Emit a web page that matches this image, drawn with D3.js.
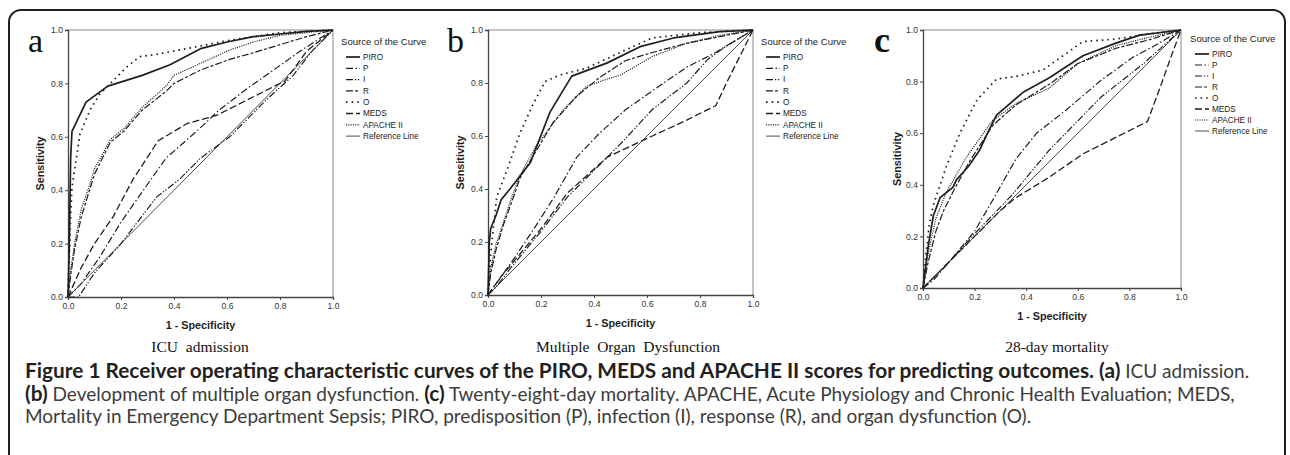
<!DOCTYPE html>
<html>
<head>
<meta charset="utf-8">
<script src="https://cdn.jsdelivr.net/npm/d3@7"></script>
<style>
  body { margin: 0; background: #fff; }
  svg { display: block; }
</style>
</head>
<body>
<div id="fig"></div>
<script>
//---------------------------------------------------------------------
// ROC curves, three panels (a) ICU admission, (b) MOD, (c) 28-day mortality
//---------------------------------------------------------------------

var sources = ["PIRO", "P", "I", "R", "O", "MEDS", "APACHE II", "Reference Line"];
var tickValues = [0, 0.2, 0.4, 0.6, 0.8, 1.0];
var panelLetters = ["a", "b", "c"];
var panelTitles = ["ICU  admission", "Multiple  Organ  Dysfunction", "28-day mortality"];

// [1 - specificity, sensitivity]
// (a) ICU admission
var icuPIRO = [[0,0],[0.005,0.2],[0.01,0.52],[0.015,0.62],[0.068,0.73],[0.15,0.79],[0.28,0.83],[0.385,0.87],[0.5,0.93],[0.6,0.955],[0.7,0.975],[0.8,0.985],[0.9,0.995],[1,1]];
var icuP = [[0,0],[0.05,0.05],[0.12,0.15],[0.2,0.28],[0.27,0.38],[0.32,0.45],[0.37,0.52],[0.49,0.625],[0.57,0.7],[0.675,0.78],[0.79,0.86],[0.875,0.92],[1,1]];
var icuI = [[0,0],[0.04,0],[0.1,0.09],[0.2,0.2],[0.335,0.375],[0.42,0.44],[0.5,0.52],[0.61,0.6],[0.75,0.74],[0.85,0.83],[0.92,0.92],[1,1]];
var icuR = [[0,0],[0.01,0.08],[0.025,0.18],[0.05,0.3],[0.075,0.38],[0.1,0.46],[0.16,0.58],[0.21,0.62],[0.28,0.7],[0.37,0.77],[0.4,0.8],[0.5,0.85],[0.61,0.89],[0.7,0.915],[0.8,0.945],[0.9,0.975],[1,1]];
var icuO = [[0,0],[0.005,0.15],[0.01,0.3],[0.015,0.41],[0.045,0.61],[0.083,0.7],[0.12,0.76],[0.17,0.81],[0.22,0.86],[0.27,0.9],[0.34,0.91],[0.5,0.94],[0.6,0.96],[0.8,0.99],[1,1]];
var icuMEDS = [[0,0],[0.05,0.11],[0.1,0.2],[0.17,0.3],[0.245,0.44],[0.34,0.585],[0.45,0.65],[0.56,0.68],[0.7,0.75],[0.82,0.81],[0.9,0.92],[1,1]];
var icuAPACHE = [[0,0],[0.01,0.1],[0.025,0.2],[0.05,0.33],[0.075,0.4],[0.1,0.48],[0.16,0.59],[0.21,0.63],[0.28,0.71],[0.37,0.79],[0.4,0.83],[0.5,0.875],[0.61,0.925],[0.7,0.955],[0.8,0.98],[0.9,0.99],[1,1]];

// (b) multiple organ dysfunction
var modPIRO = [[0,0],[0.005,0.2],[0.01,0.25],[0.03,0.3],[0.05,0.36],[0.083,0.4],[0.16,0.5],[0.234,0.69],[0.316,0.826],[0.448,0.875],[0.574,0.937],[0.7,0.97],[0.875,0.994],[1,1]];
var modP = [[0,0],[0.05,0.07],[0.1,0.14],[0.18,0.26],[0.25,0.37],[0.335,0.52],[0.42,0.61],[0.52,0.7],[0.62,0.77],[0.75,0.86],[0.85,0.91],[0.95,0.97],[1,1]];
var modI = [[0,0],[0.03,0.03],[0.1,0.12],[0.2,0.24],[0.3,0.37],[0.4,0.47],[0.5,0.57],[0.62,0.7],[0.75,0.8],[0.83,0.89],[0.9,0.94],[1,1]];
var modR = [[0,0],[0.01,0.08],[0.03,0.17],[0.06,0.27],[0.1,0.38],[0.12,0.44],[0.245,0.65],[0.335,0.75],[0.42,0.82],[0.52,0.885],[0.62,0.915],[0.75,0.95],[0.9,0.98],[1,1]];
var modO = [[0,0],[0.01,0.15],[0.02,0.25],[0.033,0.37],[0.075,0.48],[0.12,0.61],[0.17,0.72],[0.215,0.805],[0.27,0.83],[0.37,0.855],[0.52,0.925],[0.62,0.97],[0.8,0.99],[1,1]];
var modMEDS = [[0,0],[0.05,0.07],[0.1,0.13],[0.2,0.25],[0.3,0.385],[0.45,0.52],[0.62,0.6],[0.75,0.66],[0.86,0.715],[0.9,0.8],[0.96,0.92],[1,1]];
var modAPACHE = [[0,0],[0.01,0.1],[0.03,0.19],[0.06,0.28],[0.09,0.37],[0.12,0.45],[0.18,0.56],[0.285,0.7],[0.37,0.786],[0.435,0.81],[0.5,0.83],[0.62,0.9],[0.75,0.95],[0.875,0.98],[1,1]];

// (c) 28-day mortality
var morPIRO = [[0,0],[0.01,0.08],[0.02,0.16],[0.04,0.28],[0.066,0.35],[0.116,0.39],[0.13,0.42],[0.175,0.47],[0.22,0.535],[0.25,0.6],[0.285,0.67],[0.39,0.76],[0.49,0.815],[0.62,0.9],[0.75,0.95],[0.84,0.98],[1,1]];
var morP = [[0,0],[0.04,0.03],[0.1,0.1],[0.2,0.22],[0.27,0.34],[0.36,0.5],[0.44,0.6],[0.555,0.69],[0.69,0.805],[0.815,0.895],[0.9,0.94],[1,1]];
var morI = [[0,0],[0.1,0.1],[0.2,0.21],[0.34,0.355],[0.49,0.535],[0.69,0.74],[0.855,0.87],[1,1]];
var morR = [[0,0],[0.02,0.1],[0.05,0.22],[0.08,0.3],[0.12,0.38],[0.18,0.49],[0.27,0.63],[0.36,0.71],[0.49,0.79],[0.6,0.87],[0.75,0.93],[0.87,0.96],[1,1]];
var morO = [[0,0],[0.01,0.12],[0.025,0.25],[0.04,0.32],[0.053,0.36],[0.09,0.47],[0.143,0.6],[0.21,0.73],[0.285,0.81],[0.36,0.82],[0.465,0.845],[0.62,0.955],[0.75,0.965],[0.875,0.985],[1,1]];
var morMEDS = [[0,0],[0.1,0.1],[0.2,0.2],[0.3,0.3],[0.36,0.35],[0.49,0.43],[0.62,0.52],[0.75,0.585],[0.87,0.645],[0.92,0.78],[0.97,0.92],[1,1]];
var morAPACHE = [[0,0],[0.01,0.08],[0.03,0.18],[0.05,0.27],[0.09,0.37],[0.17,0.51],[0.27,0.65],[0.36,0.715],[0.49,0.775],[0.6,0.87],[0.75,0.94],[0.87,0.97],[1,1]];

var reference = [[0,0],[1,1]];

var captionLines = [
  [["b","Figure 1 Receiver operating characteristic curves of the PIRO, MEDS and APACHE II scores for predicting outcomes. (a)"],["n"," ICU admission."]],
  [["b","(b)"],["n"," Development of multiple organ dysfunction. "],["b","(c)"],["n"," Twenty-eight-day mortality. APACHE, Acute Physiology and Chronic Health Evaluation; MEDS,"]],
  [["n","Mortality in Emergency Department Sepsis; PIRO, predisposition (P), infection (I), response (R), and organ dysfunction (O)."]]
];

// line styles, same order as sources
var styles = [
  {w: 1.7, dash: null},
  {w: 1.2, dash: "7,2.5,1.5,2.5"},
  {w: 1.2, dash: "7,2,1.3,1.6,1.3,2"},
  {w: 1.2, dash: "7,2,3,2"},
  {w: 1.7, dash: "1.6,4"},
  {w: 1.3, dash: "7,3"},
  {w: 1.2, dash: "1.1,1.2"},
  {w: 0.8, dash: null}
];

// panel boxes in page pixels
var panels = [
  {data: [icuPIRO, icuP, icuI, icuR, icuO, icuMEDS, icuAPACHE, reference],
   x0: 68, x1: 333, y0: 297, y1: 30, legX: 341, legY: 42, step: 11.3,
   letterX: 28, ylabX: 40, titleX: 200},
  {data: [modPIRO, modP, modI, modR, modO, modMEDS, modAPACHE, reference],
   x0: 488, x1: 753, y0: 295, y1: 30, legX: 761, legY: 42, step: 11.3,
   letterX: 447, ylabX: 460, titleX: 628},
  {data: [morPIRO, morP, morI, morR, morO, morMEDS, morAPACHE, reference],
   x0: 923, x1: 1181, y0: 288, y1: 30, legX: 1190, legY: 39, step: 11,
   letterX: 874, ylabX: 897, titleX: 1057}
];

var W = 1290, H = 455;
var ink = "#1e1e1e";

var svg = d3.select("#fig").append("svg")
    .attr("width", W).attr("height", H);

// outer frame with rounded top corners, runs off the bottom
svg.append("rect").attr("x", 9).attr("y", 10)
  .attr("width", 1276).attr("height", 600)
  .attr("rx", 12).attr("ry", 12)
  .attr("fill", "none").attr("stroke", "#231f20").attr("stroke-width", 2);

panels.forEach(function (p, i) {
  var x = d3.scaleLinear().domain([0, 1]).range([p.x0, p.x1]);
  var y = d3.scaleLinear().domain([0, 1]).range([p.y0, p.y1]);
  var g = svg.append("g");

  // gray frame on top and right
  g.append("path")
    .attr("d", "M" + x(0) + "," + y(1) + "H" + x(1) + "V" + y(0))
    .attr("fill", "none").attr("stroke", "#8a8a8a").attr("stroke-width", 1);

  var fmt = d3.format(".1f");
  var ax = g.append("g").attr("transform", "translate(0," + y(0) + ")")
    .call(d3.axisBottom(x).tickValues(tickValues).tickFormat(fmt).tickSize(3).tickPadding(3));
  var ay = g.append("g").attr("transform", "translate(" + x(0) + ",0)")
    .call(d3.axisLeft(y).tickValues(tickValues).tickFormat(fmt).tickSize(3).tickPadding(2));
  [ax, ay].forEach(function (a) {
    a.select(".domain").attr("stroke", "#444").attr("stroke-width", 1.3);
    a.selectAll(".tick line").attr("stroke", "#444");
    a.selectAll("text").attr("fill", "#333")
      .style("font-family", "Arial, 'Liberation Sans', sans-serif").style("font-size", "8.6px");
  });

  var line = d3.line().x(function (d) { return x(d[0]); }).y(function (d) { return y(d[1]); });
  p.data.forEach(function (s, k) {
    g.append("path").datum(s).attr("d", line)
      .attr("fill", "none").attr("stroke", ink)
      .attr("stroke-width", styles[k].w)
      .attr("stroke-dasharray", styles[k].dash)
      .attr("stroke-linejoin", "round");
  });

  // axis titles
  g.append("text").attr("x", (p.x0 + p.x1) / 2).attr("y", p.y0 + 32)
    .attr("text-anchor", "middle").attr("fill", ink)
    .style("font-family", "Arial, 'Liberation Sans', sans-serif")
    .style("font-weight", "bold").style("font-size", "10.8px")
    .text("1 - Specificity");
  g.append("text")
    .attr("transform", "translate(" + p.ylabX + "," + ((p.y0 + p.y1) / 2) + ") rotate(-90)")
    .attr("text-anchor", "middle").attr("dy", "0.35em").attr("fill", ink)
    .style("font-family", "Arial, 'Liberation Sans', sans-serif")
    .style("font-weight", "bold").style("font-size", "10.8px")
    .text("Sensitivity");

  // legend
  var leg = g.append("g").style("font-family", "Arial, 'Liberation Sans', sans-serif");
  leg.append("text").attr("x", p.legX).attr("y", p.legY).attr("dy", "0.35em")
    .attr("fill", "#222").style("font-size", "9.6px").text("Source of the Curve");
  sources.forEach(function (name, k) {
    var ly = p.legY + 15 + k * p.step;
    leg.append("line")
      .attr("x1", p.legX + 5).attr("x2", p.legX + 19)
      .attr("y1", ly).attr("y2", ly)
      .attr("stroke", ink).attr("stroke-width", styles[k].w)
      .attr("stroke-dasharray", styles[k].dash);
    leg.append("text").attr("x", p.legX + 22).attr("y", ly).attr("dy", "0.35em")
      .attr("fill", "#222").style("font-size", "8.2px").text(name);
  });

  // panel letter and title
  g.append("text").attr("x", p.letterX).attr("y", 52)
    .attr("fill", "#111")
    .style("font-family", "'Liberation Serif', 'DejaVu Serif', serif")
    .style("font-size", i == 2 ? "36px" : "34px")
    .style("font-weight", i == 2 ? "bold" : "normal")
    .text(panelLetters[i]);
  g.append("text").attr("x", p.titleX).attr("y", 352)
    .attr("text-anchor", "middle").attr("fill", "#111")
    .attr("xml:space", "preserve").style("white-space", "pre")
    .style("font-family", "'Liberation Serif', serif").style("font-size", "15.5px")
    .text(panelTitles[i]);
});

// caption: regular runs sized so line 3 ends near x=1032, bold so line 1 ends near x=1250
var cap = svg.append("g").style("font-family", "Lato, 'Open Sans', sans-serif");
var base = 16;
var capTexts = captionLines.map(function (parts, li) {
  var t = cap.append("text").attr("x", 25).attr("y", 378 + li * 22.5)
    .attr("xml:space", "preserve").style("white-space", "pre");
  parts.forEach(function (pt) {
    t.append("tspan")
      .attr("class", pt[0] == "b" ? "bold" : "reg")
      .style("font-size", base + "px")
      .style("font-weight", pt[0] == "b" ? "bold" : "normal")
      .attr("fill", pt[0] == "b" ? "#231f20" : "#3c3c3c")
      .text(pt[1]);
  });
  return t;
});
var regSize = base * (1032 - 25) / capTexts[2].node().getComputedTextLength();
cap.selectAll("tspan.reg").style("font-size", regSize + "px");
var regPart = capTexts[0].select("tspan.reg").node().getComputedTextLength();
var boldW = capTexts[0].select("tspan.bold").node().getComputedTextLength();
var boldSize = base * (1250 - 25 - regPart) / boldW;
cap.selectAll("tspan.bold").style("font-size", boldSize + "px");
</script>
</body>
</html>
